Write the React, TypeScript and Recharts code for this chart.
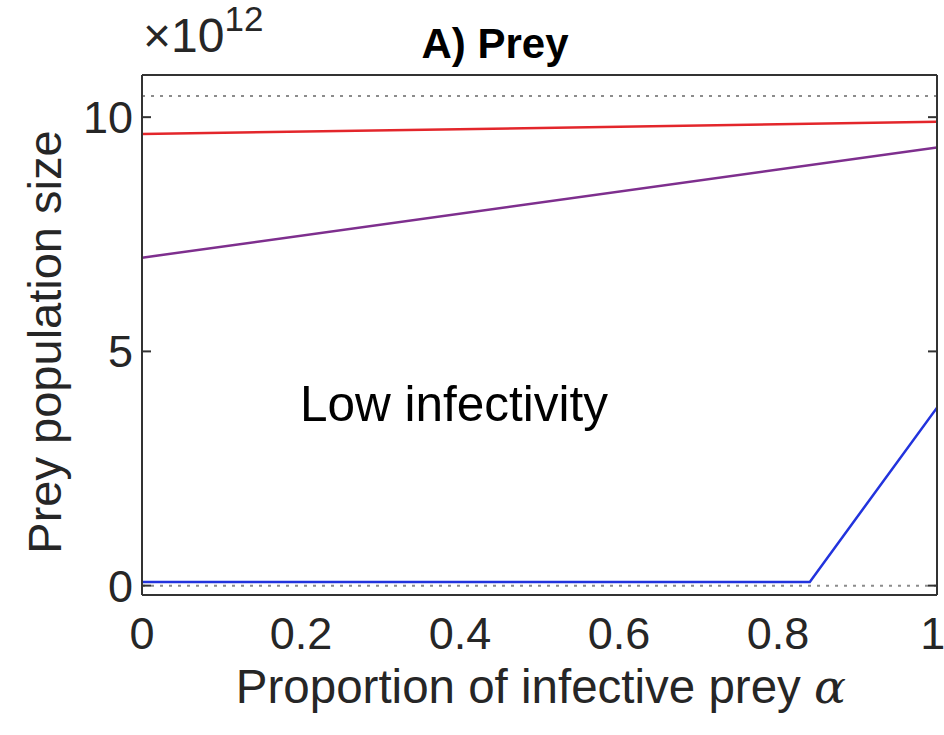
import { LineChart, Line, XAxis, YAxis, ReferenceLine } from 'recharts';

// proportion of infective prey (alpha) and prey population (x 10^12)
const alphaTicks = [0, 0.2, 0.4, 0.6, 0.8, 1];
const preyTicks = [0, 5, 10];

const redAlpha = [0, 1];
const redPrey = [9.64, 9.9];
const purpleAlpha = [0, 1];
const purplePrey = [7.0, 9.35];
const blueAlpha = [0, 0.84, 1];
const bluePrey = [0.08, 0.08, 3.8];

const upperLevel = 10.45;
const lowerLevel = 0;

const xDomain = [0, 1];
const yDomain = [-0.2, 10.9];

const zip = (xs: number[], ys: number[]) => xs.map((a, i) => ({ a, v: ys[i] }));

const FONT = '"Liberation Sans", Arial, Helvetica, sans-serif';
const AXIS = '#333333';
const TEXT = '#262626';

// tick marks only, no label
const noLabel = () => null;

export default function App() {
  const tickStyle = { fontSize: 45, fill: TEXT, fontFamily: FONT };
  const boxAxis = { stroke: AXIS, strokeWidth: 2 };

  return (
    <div style={{ position: 'absolute', left: 0, top: 0, width: 944, height: 735, background: '#fff' }}>
      <LineChart width={944} height={735} margin={{ top: 75, right: 7, bottom: 0, left: 0 }}>
        <XAxis
          xAxisId="x"
          type="number"
          dataKey="a"
          domain={xDomain}
          ticks={alphaTicks}
          allowDataOverflow
          height={140}
          axisLine={false}
          tickLine={false}
          tickSize={0}
          tickMargin={22}
          tick={tickStyle}
          tickFormatter={(v: number) => String(v)}
        />
        <YAxis
          yAxisId="y"
          type="number"
          domain={yDomain}
          ticks={preyTicks}
          allowDataOverflow
          width={142}
          axisLine={false}
          tickLine={false}
          tickSize={0}
          tickMargin={9}
          tick={tickStyle}
        />
        {/* box with inward ticks */}
        <XAxis xAxisId="xb" orientation="bottom" mirror type="number" domain={xDomain} ticks={alphaTicks}
          allowDataOverflow tick={noLabel} tickSize={9} axisLine={boxAxis} tickLine={boxAxis} />
        <XAxis xAxisId="xt" orientation="top" mirror type="number" domain={xDomain} ticks={alphaTicks}
          allowDataOverflow tick={noLabel} tickSize={9} axisLine={boxAxis} tickLine={boxAxis} />
        <YAxis yAxisId="yl" orientation="left" mirror type="number" domain={yDomain} ticks={preyTicks}
          allowDataOverflow tick={noLabel} tickSize={9} axisLine={boxAxis} tickLine={boxAxis} />
        <YAxis yAxisId="yr" orientation="right" mirror type="number" domain={yDomain} ticks={preyTicks}
          allowDataOverflow tick={noLabel} tickSize={9} axisLine={boxAxis} tickLine={boxAxis} />

        <ReferenceLine xAxisId="x" yAxisId="y" y={upperLevel} stroke="#8c8c8c" strokeWidth={2} strokeDasharray="3 6" />
        <ReferenceLine xAxisId="x" yAxisId="y" y={lowerLevel} stroke="#8c8c8c" strokeWidth={2} strokeDasharray="3 6" />

        <Line xAxisId="x" yAxisId="y" data={zip(redAlpha, redPrey)} dataKey="v" type="linear"
          stroke="#e3262b" strokeWidth={2.5} dot={false} isAnimationActive={false} />
        <Line xAxisId="x" yAxisId="y" data={zip(purpleAlpha, purplePrey)} dataKey="v" type="linear"
          stroke="#7e2f8e" strokeWidth={2.5} dot={false} isAnimationActive={false} />
        <Line xAxisId="x" yAxisId="y" data={zip(blueAlpha, bluePrey)} dataKey="v" type="linear"
          stroke="#2233dd" strokeWidth={2.5} dot={false} isAnimationActive={false} />
      </LineChart>

      <svg width={944} height={735} style={{ position: 'absolute', left: 0, top: 0, pointerEvents: 'none' }}
        fontFamily={FONT}>
        <text x={495} y={58} textAnchor="middle" fontSize={42} fontWeight="bold" fill="#000">A) Prey</text>
        <text x={143} y={52} fontSize={48} fill={TEXT}>
          ×10<tspan fontSize={35} dy={-21}>12</tspan>
        </text>
        <text x={300} y={421} fontSize={49.5} fill="#000">Low infectivity</text>
        <text x={541} y={703} textAnchor="middle" fontSize={47.5} fill={TEXT}>
          Proportion of infective prey <tspan fontFamily='"DejaVu Serif", serif' fontStyle="italic">α</tspan>
        </text>
        <text x={61} y={342} textAnchor="middle" fontSize={47} fill={TEXT} transform="rotate(-90 61 342)">
          Prey population size
        </text>
      </svg>
    </div>
  );
}
